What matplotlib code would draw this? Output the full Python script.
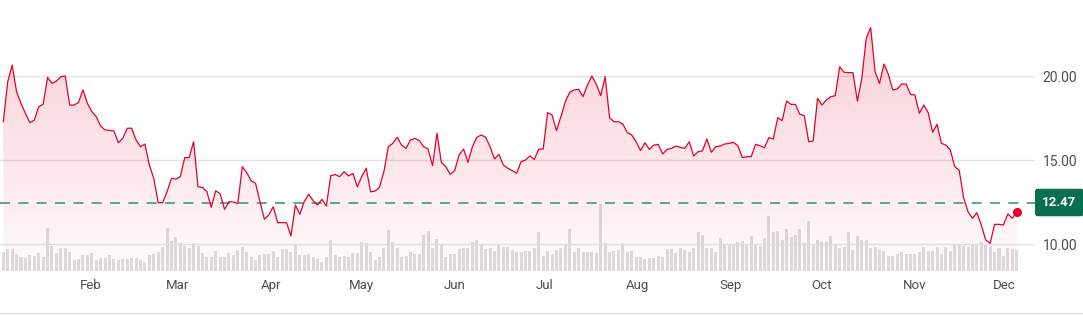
import matplotlib
matplotlib.use("Agg")
import matplotlib.pyplot as plt
import matplotlib.dates as mdates
from matplotlib.lines import Line2D
import numpy as np
import pandas as pd

# daily closing prices
prices = [
    17.28, 19.66, 20.65, 19.07, 18.37, 17.78, 17.22, 17.38, 18.17, 18.31,
    19.92, 19.56, 19.70, 19.96, 20.00, 18.27, 18.27, 18.43, 19.17, 18.37,
    17.88, 17.58, 17.02, 16.79, 16.76, 16.73, 16.03, 16.29, 16.89, 16.89,
    16.19, 15.79, 15.95, 14.70, 13.91, 12.46, 12.46, 13.11, 13.91, 13.86,
    14.01, 15.14, 15.14, 16.09, 13.41, 13.37, 13.11, 12.18, 13.17, 12.98,
    12.06, 12.52, 12.50, 12.42, 14.60, 14.25, 13.77, 13.61, 12.52, 11.47,
    11.73, 12.22, 11.27, 11.27, 11.27, 10.48, 12.32, 11.77, 12.52, 12.96,
    12.58, 12.32, 12.66, 12.26, 14.07, 14.13, 14.01, 14.30, 14.05,
    14.20, 13.41, 14.01, 14.51, 13.11, 13.15, 13.37, 14.30, 15.79, 15.99,
    16.35, 15.89, 15.69, 16.19, 16.29, 16.15, 15.79, 15.65, 14.66, 16.59,
    14.84, 14.60, 14.15, 14.37, 15.30, 15.65, 14.86, 15.79, 16.35, 16.49,
    16.35, 15.79, 15.06, 15.34, 14.70, 14.51, 14.37, 14.21, 14.90,
    15.00, 15.24, 15.04, 15.65, 15.65, 17.82, 17.68, 16.75, 17.58, 18.47,
    19.03, 19.17, 19.21, 18.77, 19.46, 20.00, 19.50, 18.83, 19.96, 17.52,
    17.28, 17.28, 17.14, 16.63, 16.49, 16.09, 15.56, 16.03, 15.63, 15.89,
    15.93, 15.36, 15.63, 15.69, 15.83, 15.75, 15.69, 16.09, 15.24,
    15.49, 15.55, 16.25, 15.46, 15.79, 15.83, 15.95, 15.99, 16.05, 15.85,
    15.14, 15.20, 15.20, 15.93, 15.85, 15.73, 16.33, 16.25, 17.52, 17.34,
    18.51, 18.31, 18.31, 17.72, 17.64, 16.09, 16.13, 18.67, 18.27, 18.57,
    18.77, 18.83, 20.55, 20.22, 20.20, 20.20, 18.51,
    19.86, 22.24, 22.88, 20.26, 19.56, 20.71, 20.10, 19.17, 19.23, 19.52,
    19.52, 18.91, 18.87, 17.78, 18.27, 17.82, 16.65, 17.12, 15.99, 15.89,
    15.60, 14.60, 14.40, 12.76, 11.92, 11.53, 11.86, 11.13, 10.24, 10.04,
    11.17, 11.17, 11.13, 11.79, 11.53, 11.89, 12.47,
]

# daily volume (millions)
volume = [
    5.6, 6.6, 6.6, 5.0, 4.3, 4.0, 4.8, 4.6, 5.3, 4.3,
    12.8, 7.6, 5.3, 7.0, 6.8, 5.6, 3.3, 3.6, 4.8, 4.8,
    5.3, 3.3, 3.8, 4.0, 4.8, 3.6, 3.3, 3.5, 3.6, 3.8,
    3.8, 3.3, 2.8, 4.8, 5.0, 5.8, 7.3, 13.0, 9.0,
    10.3, 8.3, 7.6, 7.0, 8.3, 7.6, 5.3, 4.3, 4.3, 6.0,
    4.3, 4.3, 5.3, 4.8, 6.3, 7.3, 5.6, 4.3, 3.3, 4.8,
    5.0, 5.0, 6.0, 4.3, 6.6, 6.6, 5.6, 8.0, 4.8,
    4.8, 5.0, 4.3, 3.5, 2.8, 4.3, 9.3, 4.8, 4.3, 4.6,
    4.3, 5.3, 5.3, 8.6, 8.3, 5.8, 3.3, 4.3, 7.0, 12.3,
    8.6, 6.8, 4.3, 4.6, 5.8, 5.0, 5.0, 10.8, 12.0, 7.0,
    9.5, 8.0, 4.3, 5.0, 5.0, 6.6, 7.0, 6.8, 8.8, 9.3,
    7.8, 6.6, 6.8, 6.0, 7.8,
    7.1, 7.1, 6.3, 5.8, 5.8, 6.0, 6.0, 6.8, 11.8,
    4.6, 6.0, 5.0, 6.3, 6.8, 7.8, 12.5, 5.6, 7.0, 5.8,
    5.8, 5.8, 5.3, 20.0, 8.3, 5.8, 6.0, 6.3, 8.3, 5.8,
    6.0, 4.3, 4.3, 3.6, 3.8, 4.0, 4.6, 4.3, 6.6, 6.6,
    5.3, 7.0, 6.3, 5.6, 7.0, 11.6, 10.8, 7.0, 7.0, 5.6,
    10.0, 8.0, 7.8, 7.8, 8.8, 9.0, 8.0, 10.6, 8.0, 7.6,
    10.0, 16.6, 11.8, 12.0, 9.3, 12.6, 10.3, 10.8, 12.5,
    8.3, 15.0, 7.8, 9.3, 8.8, 8.8, 10.6, 8.0, 7.0, 7.3,
    11.8, 6.3, 10.6, 9.3, 9.3, 7.0, 7.3, 6.3, 6.0, 4.6,
    4.6, 5.0, 5.8, 5.0, 5.0, 5.0, 5.8, 7.3, 6.0, 6.0,
    7.3, 5.0, 7.3, 6.0, 7.8, 8.0, 7.6, 7.3, 8.0, 7.8,
    8.8, 8.0, 7.6, 5.6, 6.8, 4.6, 7.0, 6.6, 6.3,
]

start_date = "2024-01-03"
end_date = "2024-12-05"
last_price = prices[-1]
price_ticks = [10, 15, 20]

n = min(len(prices), len(volume))
prices = prices[:n]
volume = volume[:n]
dates = pd.date_range(start_date, end_date, periods=n)
x = mdates.date2num(dates)

red = "#e4002b"
grey_txt = "#4d4d4d"

plt.rcParams["font.family"] = ["Roboto", "DejaVu Sans"]

fig = plt.figure(figsize=(10.83, 3.15), dpi=100)
W, H = 1083, 315
ax_left, ax_right = 0, 1035
ax_top, ax_bot = 0, 271
rect = [ax_left / W, 1 - ax_bot / H, (ax_right - ax_left) / W, (ax_bot - ax_top) / H]

ax = fig.add_axes(rect)  # volume
ax2 = ax.twinx()         # price

# x limits so the first/last points land where they do in the picture
ppd = (1016.7 - 3.3) / (x[-1] - x[0])
xlim = (x[0] - 3.3 / ppd, x[-1] + (ax_right - 1016.7) / ppd)

# volume bars
ax.bar(x, volume, width=1.0, color="#dddde0", zorder=1)
ax.set_ylim(0, 271 / 3.33)
ax.set_xlim(xlim)

# price scale: 16.8 px per unit, 10.00 at 244 px
ylo = 10 - (ax_bot - 244) / 16.8
yhi = 10 + (244 - ax_top) / 16.8
ax2.set_ylim(ylo, yhi)
ax2.set_xlim(xlim)

for t in price_ticks:
    ax2.axhline(t, color="#e2e2e4", lw=1.0, zorder=1)

# gradient fill under the line
poly = ax2.fill_between(x, prices, ylo, facecolor="none", edgecolor="none")
grad = np.zeros((256, 1, 4))
grad[:, 0, 0] = 0.894
grad[:, 0, 1] = 0.0
grad[:, 0, 2] = 0.17
grad[:, 0, 3] = np.linspace(0.21, 0.02, 256)
img = ax2.imshow(grad, aspect="auto", extent=[xlim[0], xlim[1], ylo, yhi],
                 origin="upper", zorder=2)
img.set_clip_path(poly.get_paths()[0], transform=ax2.transData)
ax2.set_xlim(xlim)
ax2.set_ylim(ylo, yhi)

ax2.axhline(last_price, color="#3f9a7e", lw=1.2, ls=(0, (6, 5)), zorder=3)
ax2.plot(x, prices, color=red, lw=0.9, zorder=4)
ax2.plot(x[-1], prices[-1], "o", color=red, ms=5.5, zorder=5)

# axes styling
for a in (ax, ax2):
    for s in a.spines.values():
        s.set_visible(False)
ax.set_yticks([])
ax2.set_yticks(price_ticks)
ax2.set_yticklabels([f"{t:.2f}" for t in price_ticks])
ax2.tick_params(axis="y", length=0, pad=5.5, labelsize=10, labelcolor=grey_txt)
ax.xaxis.set_major_locator(mdates.MonthLocator(bymonth=range(2, 13)))
ax.xaxis.set_major_formatter(mdates.DateFormatter("%b"))
ax.tick_params(axis="x", length=0, pad=6, labelsize=9.5, labelcolor=grey_txt)
ax2.tick_params(axis="x", bottom=False, labelbottom=False)

# last price tag on the right
ax2.annotate(f"{last_price:.2f}", xy=(1.0, last_price),
             xycoords=("axes fraction", "data"),
             xytext=(17.5, 0), textcoords="offset points",
             ha="center", va="center", color="white", fontsize=9.5,
             fontweight="bold",
             bbox=dict(boxstyle="round,pad=0.55,rounding_size=0.2",
                       fc="#0a6e50", ec="none"),
             annotation_clip=False)

fig.add_artist(Line2D([0, 1], [1 - 313 / H, 1 - 313 / H], color="#e0e0e0", lw=1.0))

fig.savefig("out.png", dpi=100)
